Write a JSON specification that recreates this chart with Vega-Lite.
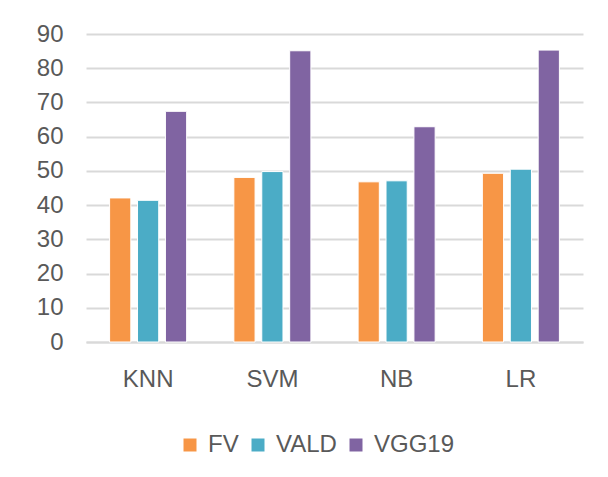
{
  "$schema": "https://vega.github.io/schema/vega-lite/v6.json",
  "autosize": "none",
  "width": 497,
  "height": 308,
  "padding": {"left": 86, "top": 34, "right": 25, "bottom": 135},
  "background": "white",
  "data": {
    "values": [
      {"model": "KNN", "method": "FV", "value": 42.1},
      {"model": "KNN", "method": "VALD", "value": 41.4},
      {"model": "KNN", "method": "VGG19", "value": 67.4},
      {"model": "SVM", "method": "FV", "value": 48.1},
      {"model": "SVM", "method": "VALD", "value": 49.8},
      {"model": "SVM", "method": "VGG19", "value": 85.1},
      {"model": "NB", "method": "FV", "value": 46.8},
      {"model": "NB", "method": "VALD", "value": 47.1},
      {"model": "NB", "method": "VGG19", "value": 62.9},
      {"model": "LR", "method": "FV", "value": 49.3},
      {"model": "LR", "method": "VALD", "value": 50.5},
      {"model": "LR", "method": "VGG19", "value": 85.3}
    ]
  },
  "mark": {"type": "bar", "stroke": "white", "strokeWidth": 1},
  "encoding": {
    "x": {
      "field": "model", "type": "nominal", "sort": ["KNN", "SVM", "NB", "LR"],
      "scale": {"paddingInner": 0.38, "paddingOuter": 0.19},
      "axis": {"title": null, "labelAngle": 0, "ticks": false, "domainColor": "#d9d9d9", "domainWidth": 2, "labelPadding": 25, "labelFontSize": 24, "labelColor": "#595959", "labelFont": "Liberation Sans"}
    },
    "xOffset": {"field": "method", "type": "nominal", "scale": {"paddingInner": 0.24, "paddingOuter": 0}},
    "y": {
      "field": "value", "type": "quantitative",
      "scale": {"domain": [0, 90], "nice": false},
      "axis": {"title": null, "values": [0,10,20,30,40,50,60,70,80,90], "ticks": false, "domain": false, "gridColor": "#d9d9d9", "gridWidth": 2, "labelPadding": 23, "labelFontSize": 24, "labelColor": "#595959", "labelFont": "Liberation Sans"}
    },
    "color": {
      "field": "method", "type": "nominal",
      "scale": {"domain": ["FV", "VALD", "VGG19"], "range": ["#f79646", "#4bacc6", "#8064a2"]},
      "legend": {"title": null, "orient": "none", "legendX": 92, "legendY": 399, "direction": "horizontal", "symbolType": "square", "symbolSize": 169, "symbolStrokeWidth": 0, "labelFontSize": 24, "labelColor": "#595959", "labelFont": "Liberation Sans", "labelOffset": 6, "columnPadding": 7}
    }
  },
  "config": {"view": {"stroke": null}}
}
